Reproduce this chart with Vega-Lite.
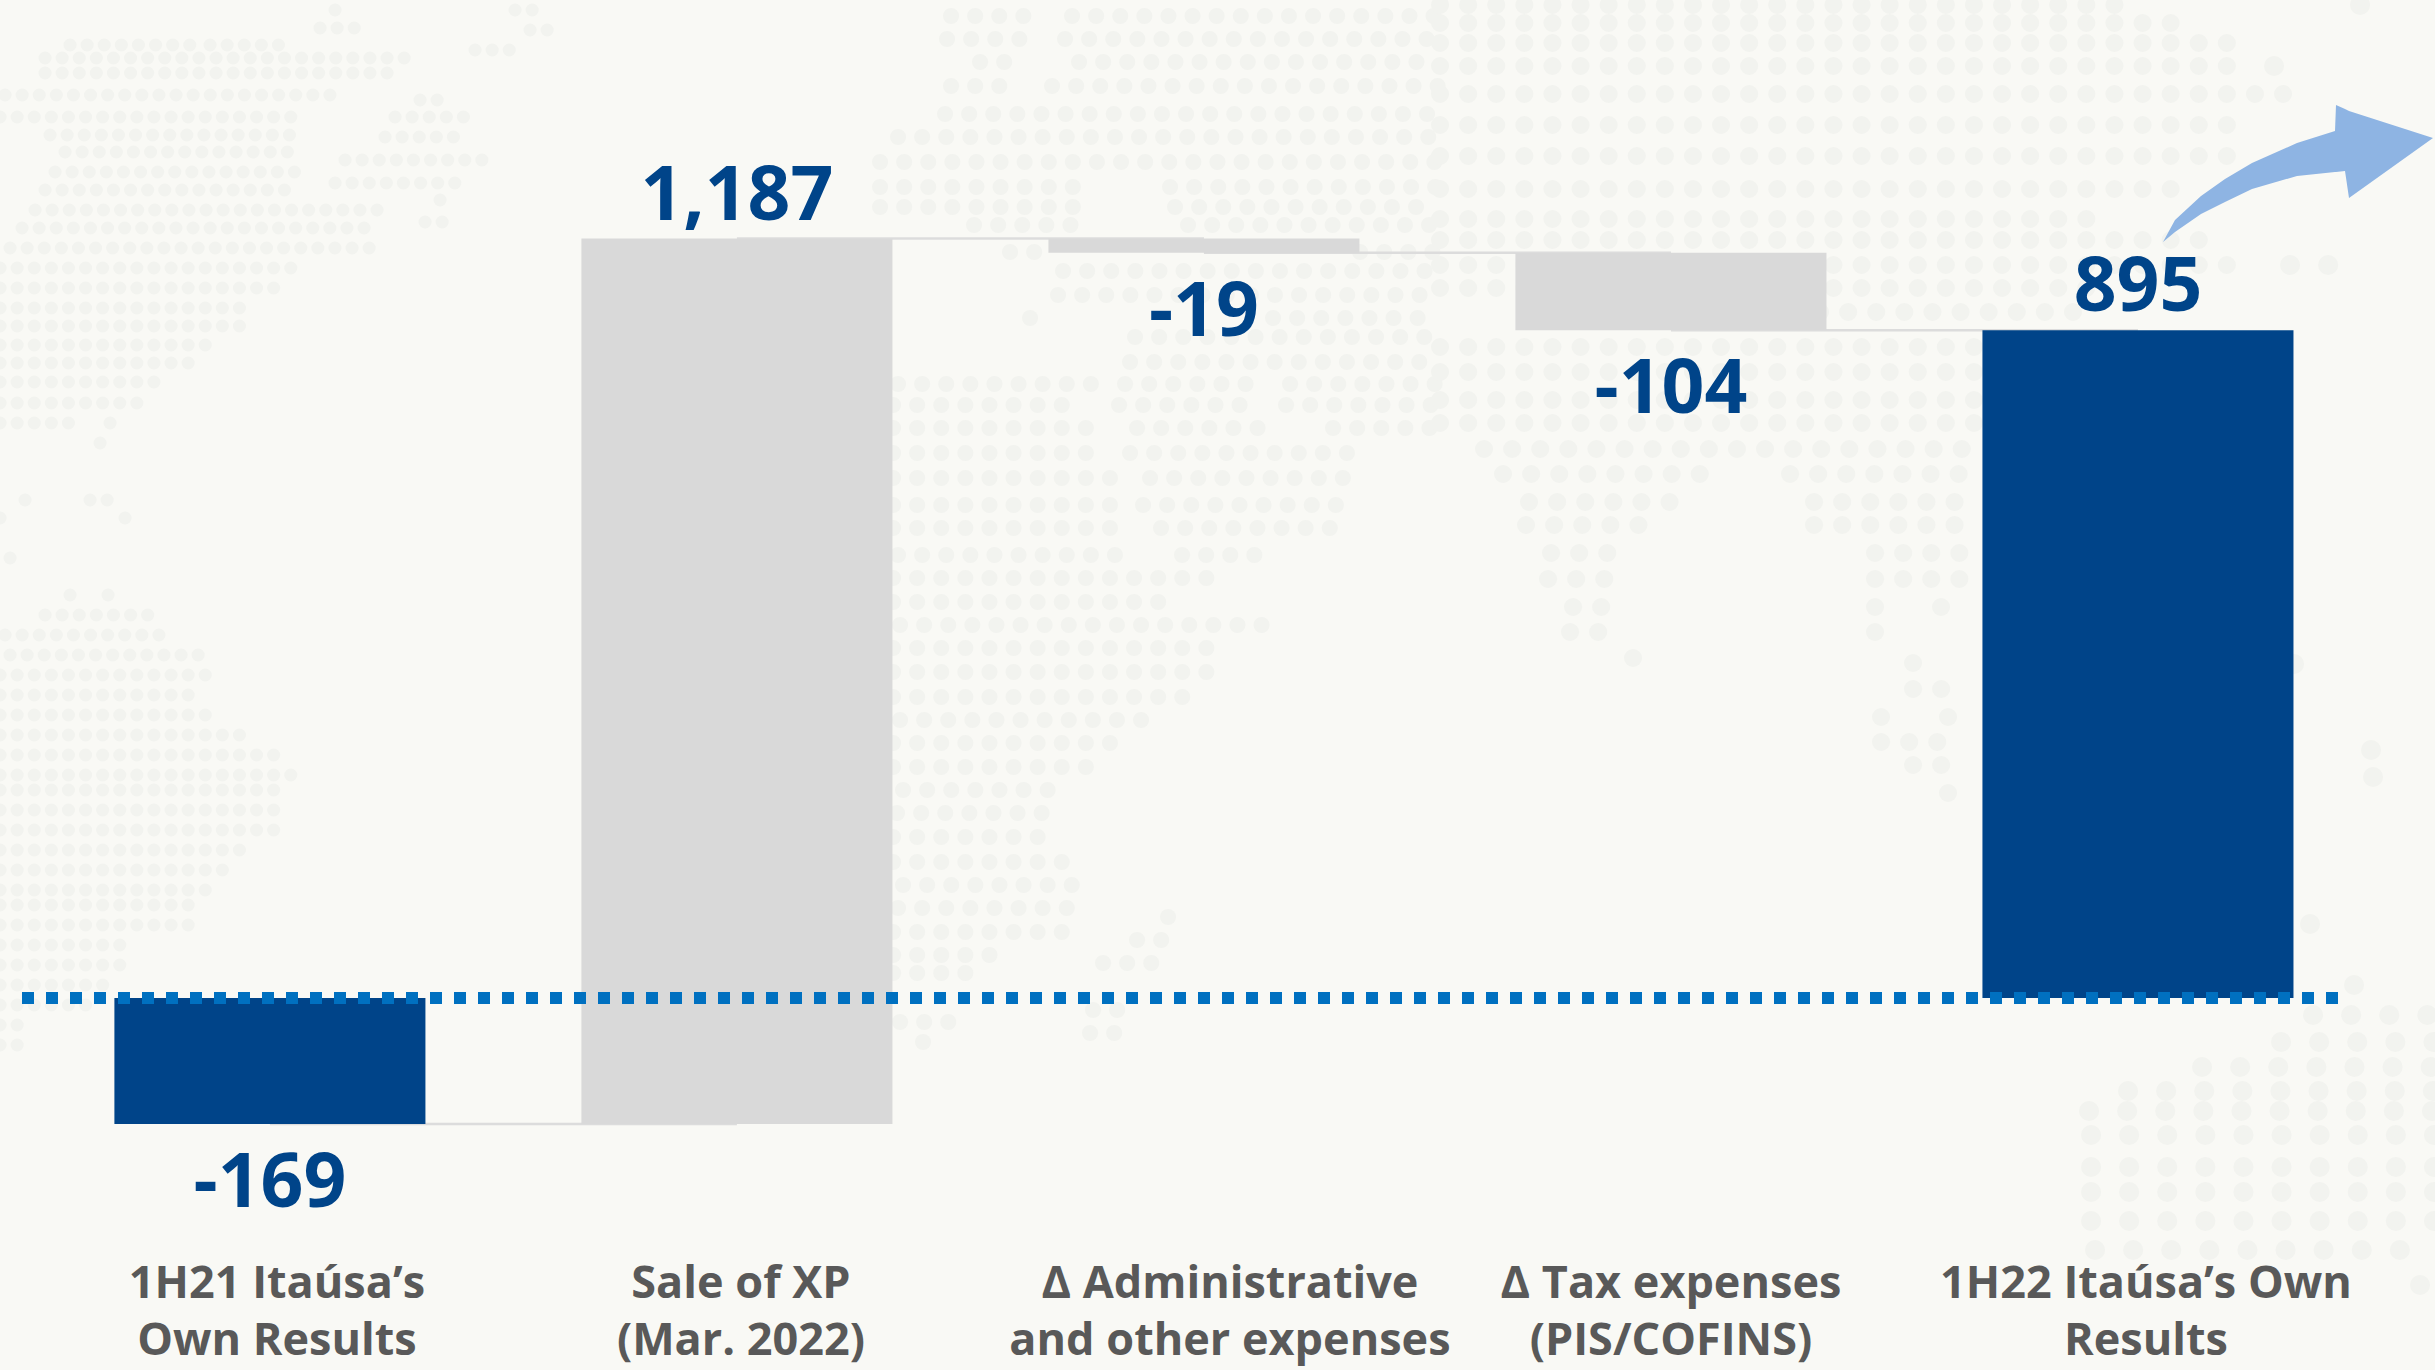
{"$schema":"https://vega.github.io/schema/vega-lite/v6.json","width":2435,"height":1370,"padding":0,"autosize":{"type":"none"},"background":"#f9f9f5","config":{"view":{"stroke":null},"font":"Open Sans"},
"datasets":{
"steps":[
{"step":"1H21 Itaúsa’s Own Results","caption":"1H21 Itaúsa’s\nOwn Results","start":0,"end":-169,"label":"-169","kind":"total"},
{"step":"Sale of XP","caption":"Sale of XP\n(Mar. 2022)","start":-169,"end":1018,"label":"1,187","kind":"change"},
{"step":"Administrative","caption":"Δ Administrative\nand other expenses","start":1018,"end":999,"label":"-19","kind":"change"},
{"step":"Tax","caption":"Δ Tax expenses\n(PIS/COFINS)","start":999,"end":895,"label":"-104","kind":"change"},
{"step":"1H22 Itaúsa’s Own Results","caption":"1H22 Itaúsa’s Own\nResults","start":0,"end":895,"label":"895","kind":"total"}],
"links":[
{"from":"1H21 Itaúsa’s Own Results","to":"Sale of XP","level":-169},
{"from":"Sale of XP","to":"Administrative","level":1018},
{"from":"Administrative","to":"Tax","level":999},
{"from":"Tax","to":"1H22 Itaúsa’s Own Results","level":895}],
"pointer":[
{"x":2163,"a":242,"b":242},{"x":2175,"a":220,"b":232},{"x":2201,"a":196,"b":214},{"x":2225,"a":179,"b":202},{"x":2252,"a":163,"b":189},{"x":2297,"a":143,"b":176},{"x":2335,"a":131,"b":172},{"x":2336,"a":105,"b":172},{"x":2345,"a":109,"b":171},{"x":2349,"a":111,"b":198},{"x":2433,"a":138,"b":138}],
"spans":[
{"y":10,"x0":335,"x1":350,"grid":"W"},{"y":10,"x0":515,"x1":545,"grid":"W"},{"y":28,"x0":320,"x1":360,"grid":"W"},{"y":30,"x0":530,"x1":550,"grid":"W"},{"y":45,"x0":70,"x1":190,"grid":"W"},{"y":45,"x0":210,"x1":280,"grid":"W"},{"y":50,"x0":475,"x1":510,"grid":"W"},{"y":58,"x0":45,"x1":415,"grid":"W"},{"y":73,"x0":45,"x1":390,"grid":"W"},{"y":95,"x0":5,"x1":330,"grid":"W"},{"y":100,"x0":420,"x1":445,"grid":"W"},{"y":117,"x0":0,"x1":300,"grid":"W"},{"y":117,"x0":395,"x1":470,"grid":"W"},{"y":135,"x0":50,"x1":290,"grid":"W"},{"y":137,"x0":385,"x1":460,"grid":"W"},{"y":152,"x0":65,"x1":300,"grid":"W"},{"y":160,"x0":345,"x1":485,"grid":"W"},{"y":172,"x0":55,"x1":305,"grid":"W"},{"y":183,"x0":335,"x1":470,"grid":"W"},{"y":190,"x0":45,"x1":295,"grid":"W"},{"y":200,"x0":440,"x1":445,"grid":"W"},{"y":210,"x0":35,"x1":380,"grid":"W"},{"y":222,"x0":425,"x1":450,"grid":"W"},{"y":228,"x0":22,"x1":370,"grid":"W"},{"y":248,"x0":10,"x1":380,"grid":"W"},{"y":268,"x0":0,"x1":300,"grid":"W"},{"y":288,"x0":0,"x1":280,"grid":"W"},{"y":308,"x0":0,"x1":250,"grid":"W"},{"y":326,"x0":0,"x1":250,"grid":"W"},{"y":345,"x0":0,"x1":210,"grid":"W"},{"y":363,"x0":0,"x1":195,"grid":"W"},{"y":382,"x0":0,"x1":170,"grid":"W"},{"y":403,"x0":0,"x1":145,"grid":"W"},{"y":423,"x0":0,"x1":70,"grid":"W"},{"y":423,"x0":110,"x1":120,"grid":"W"},{"y":443,"x0":100,"x1":105,"grid":"W"},
{"y":500,"x0":25,"x1":30,"grid":"W"},{"y":500,"x0":90,"x1":110,"grid":"W"},{"y":518,"x0":0,"x1":15,"grid":"W"},{"y":518,"x0":125,"x1":130,"grid":"W"},{"y":558,"x0":10,"x1":15,"grid":"W"},{"y":595,"x0":70,"x1":75,"grid":"W"},{"y":595,"x0":108,"x1":112,"grid":"W"},{"y":615,"x0":45,"x1":150,"grid":"W"},{"y":635,"x0":5,"x1":160,"grid":"W"},{"y":655,"x0":10,"x1":205,"grid":"W"},{"y":675,"x0":0,"x1":215,"grid":"W"},{"y":695,"x0":0,"x1":205,"grid":"W"},{"y":715,"x0":0,"x1":215,"grid":"W"},{"y":735,"x0":0,"x1":240,"grid":"W"},{"y":755,"x0":0,"x1":285,"grid":"W"},{"y":775,"x0":0,"x1":300,"grid":"W"},{"y":790,"x0":0,"x1":290,"grid":"W"},{"y":810,"x0":0,"x1":280,"grid":"W"},{"y":830,"x0":0,"x1":280,"grid":"W"},{"y":850,"x0":0,"x1":255,"grid":"W"},{"y":870,"x0":0,"x1":230,"grid":"W"},{"y":890,"x0":0,"x1":220,"grid":"W"},{"y":905,"x0":0,"x1":205,"grid":"W"},{"y":925,"x0":0,"x1":190,"grid":"W"},{"y":945,"x0":0,"x1":130,"grid":"W"},{"y":965,"x0":0,"x1":120,"grid":"W"},{"y":985,"x0":0,"x1":110,"grid":"W"},{"y":1005,"x0":0,"x1":100,"grid":"W"},{"y":1025,"x0":0,"x1":30,"grid":"W"},{"y":1045,"x0":0,"x1":20,"grid":"W"},
{"y":16,"x0":951,"x1":1045,"grid":"C"},{"y":16,"x0":1072,"x1":1440,"grid":"C"},{"y":39,"x0":947,"x1":1038,"grid":"C"},{"y":39,"x0":1065,"x1":1440,"grid":"C"},{"y":62,"x0":980,"x1":1012,"grid":"C"},{"y":62,"x0":1079,"x1":1440,"grid":"C"},{"y":86,"x0":951,"x1":1005,"grid":"C"},{"y":86,"x0":1052,"x1":1440,"grid":"C"},{"y":114,"x0":945,"x1":1440,"grid":"C"},{"y":137,"x0":898,"x1":1440,"grid":"C"},{"y":162,"x0":880,"x1":1440,"grid":"C"},{"y":187,"x0":880,"x1":1094,"grid":"C"},{"y":187,"x0":1170,"x1":1440,"grid":"C"},{"y":207,"x0":880,"x1":1094,"grid":"C"},{"y":207,"x0":1175,"x1":1440,"grid":"C"},{"y":225,"x0":974,"x1":1090,"grid":"C"},{"y":225,"x0":1188,"x1":1440,"grid":"C"},{"y":252,"x0":1010,"x1":1045,"grid":"C"},{"y":252,"x0":1360,"x1":1440,"grid":"C"},{"y":271,"x0":1063,"x1":1440,"grid":"C"},{"y":295,"x0":1058,"x1":1440,"grid":"C"},{"y":318,"x0":1030,"x1":1035,"grid":"C"},{"y":318,"x0":1273,"x1":1440,"grid":"C"},{"y":337,"x0":1135,"x1":1440,"grid":"C"},{"y":362,"x0":1130,"x1":1440,"grid":"C"},{"y":384,"x0":898,"x1":1112,"grid":"C"},{"y":384,"x0":1125,"x1":1255,"grid":"C"},{"y":384,"x0":1290,"x1":1440,"grid":"C"},{"y":405,"x0":893,"x1":1085,"grid":"C"},{"y":405,"x0":1119,"x1":1250,"grid":"C"},{"y":405,"x0":1286,"x1":1440,"grid":"C"},{"y":428,"x0":893,"x1":1103,"grid":"C"},{"y":428,"x0":1137,"x1":1268,"grid":"C"},{"y":428,"x0":1333,"x1":1440,"grid":"C"},{"y":453,"x0":893,"x1":1099,"grid":"C"},{"y":453,"x0":1130,"x1":1367,"grid":"C"},{"y":478,"x0":893,"x1":1116,"grid":"C"},{"y":478,"x0":1150,"x1":1362,"grid":"C"},{"y":505,"x0":893,"x1":1112,"grid":"C"},{"y":505,"x0":1143,"x1":1358,"grid":"C"},{"y":528,"x0":893,"x1":1130,"grid":"C"},{"y":528,"x0":1161,"x1":1331,"grid":"C"},{"y":555,"x0":898,"x1":1125,"grid":"C"},{"y":555,"x0":1182,"x1":1273,"grid":"C"},{"y":578,"x0":893,"x1":1217,"grid":"C"},{"y":602,"x0":893,"x1":1163,"grid":"C"},{"y":625,"x0":900,"x1":1262,"grid":"C"},{"y":648,"x0":893,"x1":1230,"grid":"C"},{"y":672,"x0":893,"x1":1225,"grid":"C"},{"y":697,"x0":893,"x1":1193,"grid":"C"},{"y":720,"x0":900,"x1":1163,"grid":"C"},{"y":743,"x0":893,"x1":1132,"grid":"C"},{"y":767,"x0":893,"x1":1100,"grid":"C"},{"y":790,"x0":903,"x1":1070,"grid":"C"},{"y":813,"x0":897,"x1":1065,"grid":"C"},{"y":837,"x0":893,"x1":1060,"grid":"C"},{"y":862,"x0":893,"x1":1080,"grid":"C"},{"y":885,"x0":903,"x1":1073,"grid":"C"},{"y":908,"x0":898,"x1":1068,"grid":"C"},{"y":917,"x0":1168,"x1":1172,"grid":"C"},{"y":932,"x0":893,"x1":1063,"grid":"C"},{"y":940,"x0":1137,"x1":1163,"grid":"C"},{"y":955,"x0":893,"x1":1005,"grid":"C"},{"y":963,"x0":1103,"x1":1160,"grid":"C"},{"y":973,"x0":893,"x1":975,"grid":"C"},{"y":1010,"x0":1093,"x1":1122,"grid":"C"},{"y":1022,"x0":900,"x1":955,"grid":"C"},{"y":1033,"x0":1090,"x1":1117,"grid":"C"},{"y":1042,"x0":923,"x1":927,"grid":"C"},
{"y":5,"x0":1440,"x1":2138,"grid":"E"},{"y":23,"x0":1440,"x1":2182,"grid":"E"},{"y":43,"x0":1440,"x1":2240,"grid":"E"},{"y":66,"x0":1440,"x1":2227,"grid":"E"},{"y":94,"x0":1440,"x1":2284,"grid":"E"},{"y":125,"x0":1440,"x1":2227,"grid":"E"},{"y":156,"x0":1440,"x1":2227,"grid":"E"},{"y":189,"x0":1440,"x1":2189,"grid":"E"},{"y":219,"x0":1440,"x1":2100,"grid":"E"},{"y":240,"x0":1440,"x1":2201,"grid":"E"},{"y":265,"x0":1440,"x1":2227,"grid":"E"},{"y":288,"x0":1440,"x1":2100,"grid":"E"},{"y":312,"x0":1820,"x1":2100,"grid":"E"},{"y":347,"x0":1440,"x1":1980,"grid":"E"},{"y":372,"x0":1440,"x1":1980,"grid":"E"},{"y":400,"x0":1440,"x1":1980,"grid":"E"},{"y":423,"x0":1440,"x1":1980,"grid":"E"},{"y":449,"x0":1484,"x1":1980,"grid":"E"},{"y":474,"x0":1503,"x1":1720,"grid":"E"},{"y":474,"x0":1790,"x1":1980,"grid":"E"},{"y":502,"x0":1529,"x1":1687,"grid":"E"},{"y":502,"x0":1814,"x1":1967,"grid":"E"},{"y":525,"x0":1526,"x1":1656,"grid":"E"},{"y":525,"x0":1814,"x1":1980,"grid":"E"},{"y":553,"x0":1551,"x1":1624,"grid":"E"},{"y":553,"x0":1875,"x1":1980,"grid":"E"},{"y":579,"x0":1548,"x1":1624,"grid":"E"},{"y":579,"x0":1875,"x1":1967,"grid":"E"},{"y":607,"x0":1573,"x1":1621,"grid":"E"},{"y":607,"x0":1875,"x1":1893,"grid":"E"},{"y":607,"x0":1941,"x1":1967,"grid":"E"},{"y":632,"x0":1570,"x1":1621,"grid":"E"},{"y":632,"x0":1875,"x1":1893,"grid":"E"},{"y":658,"x0":1633,"x1":1637,"grid":"E"},{"y":663,"x0":1913,"x1":1917,"grid":"E"},{"y":689,"x0":1913,"x1":1960,"grid":"E"},{"y":717,"x0":1881,"x1":1885,"grid":"E"},{"y":717,"x0":1948,"x1":1952,"grid":"E"},{"y":742,"x0":1881,"x1":1960,"grid":"E"},{"y":765,"x0":1913,"x1":1957,"grid":"E"},{"y":793,"x0":1948,"x1":1952,"grid":"E"},
{"y":5,"x0":2360,"x1":2392,"grid":"F"},{"y":66,"x0":2274,"x1":2278,"grid":"F"},{"y":265,"x0":2290,"x1":2360,"grid":"F"},{"y":664,"x0":2294,"x1":2321,"grid":"F"},{"y":750,"x0":2371,"x1":2375,"grid":"F"},{"y":777,"x0":2373,"x1":2377,"grid":"F"},{"y":924,"x0":2310,"x1":2314,"grid":"F"},{"y":985,"x0":2354,"x1":2358,"grid":"F"},{"y":1015,"x0":2313,"x1":2435,"grid":"F"},{"y":1042,"x0":2281,"x1":2435,"grid":"F"},{"y":1067,"x0":2202,"x1":2435,"grid":"F"},{"y":1091,"x0":2128,"x1":2435,"grid":"F"},{"y":1111,"x0":2089,"x1":2435,"grid":"F"},{"y":1135,"x0":2091,"x1":2435,"grid":"F"},{"y":1167,"x0":2091,"x1":2435,"grid":"F"},{"y":1192,"x0":2091,"x1":2435,"grid":"F"},{"y":1221,"x0":2091,"x1":2435,"grid":"F"},{"y":1250,"x0":2095,"x1":2435,"grid":"F"},{"y":1285,"x0":2420,"x1":2435,"grid":"F"}]
},
"resolve":{"scale":{"x":"independent","y":"independent","color":"independent","strokeDash":"independent","strokeWidth":"independent"}},
"layer":[
{"data":{"name":"spans"},"mark":{"type":"rule","strokeCap":"round","color":"#f2f3ef"},"encoding":{
"x":{"field":"x0","type":"quantitative","axis":null,"scale":{"domain":[0,2435],"nice":false,"zero":false}},
"x2":{"field":"x1"},
"y":{"field":"y","type":"quantitative","axis":null,"scale":{"domain":[1370,0],"nice":false,"zero":false}},
"strokeDash":{"field":"grid","type":"nominal","legend":null,"scale":{"domain":["W","C","E","F"],"range":[[0.1,17],[0.1,24],[0.1,28],[0.1,38]]}},
"strokeWidth":{"field":"grid","type":"nominal","legend":null,"scale":{"type":"ordinal","domain":["W","C","E","F"],"range":[13,16,18,20]}}}},
{"data":{"name":"pointer"},"mark":{"type":"area","color":"#8eb4e3","orient":"vertical"},"encoding":{
"x":{"field":"x","type":"quantitative","axis":null,"scale":{"domain":[0,2435],"nice":false,"zero":false}},
"y":{"field":"a","type":"quantitative","axis":null,"stack":null,"scale":{"domain":[1370,0],"nice":false,"zero":false}},
"y2":{"field":"b"}}},
{"data":{"name":"links"},"mark":{"type":"rule","color":"#dcdcdc","strokeWidth":2.5},"encoding":{
"x":{"field":"from","type":"nominal","axis":null,"sort":null,"scale":{"type":"band","domain":["1H21 Itaúsa’s Own Results","Sale of XP","Administrative","Tax","1H22 Itaúsa’s Own Results"],"paddingInner":0.334,"paddingOuter":0.274,"align":0.447}},
"x2":{"field":"to"},
"y":{"field":"level","type":"quantitative","axis":null,"scale":{"domain":[-498.7,1337.8],"nice":false,"zero":false}}}},
{"data":{"name":"steps"},"mark":{"type":"bar"},"encoding":{
"x":{"field":"step","type":"nominal","axis":null,"sort":null,"scale":{"type":"band","domain":["1H21 Itaúsa’s Own Results","Sale of XP","Administrative","Tax","1H22 Itaúsa’s Own Results"],"paddingInner":0.334,"paddingOuter":0.274,"align":0.447}},
"y":{"field":"start","type":"quantitative","axis":null,"scale":{"domain":[-498.7,1337.8],"nice":false,"zero":false}},
"y2":{"field":"end"},
"color":{"field":"kind","type":"nominal","legend":null,"scale":{"domain":["total","change"],"range":["#004489","#d9d9d9"]}}}},
{"data":{"values":[{"level":0}]},"mark":{"type":"rule","color":"#0070c0","strokeWidth":12,"strokeDash":[12,12]},"encoding":{
"x":{"datum":22,"axis":null,"scale":{"domain":[0,2435],"nice":false,"zero":false}},"x2":{"datum":2340},
"y":{"field":"level","type":"quantitative","axis":null,"scale":{"domain":[-498.7,1337.8],"nice":false,"zero":false}}}},
{"data":{"name":"steps"},"transform":[{"filter":"datum.label[0] === '-'"}],"mark":{"type":"text","font":"Open Sans","fontWeight":700,"fontSize":75,"color":"#004489","baseline":"alphabetic","dy":83},"encoding":{
"x":{"field":"step","type":"nominal","axis":null,"sort":null,"scale":{"type":"band","domain":["1H21 Itaúsa’s Own Results","Sale of XP","Administrative","Tax","1H22 Itaúsa’s Own Results"],"paddingInner":0.334,"paddingOuter":0.274,"align":0.447}},
"y":{"field":"end","type":"quantitative","axis":null,"scale":{"domain":[-498.7,1337.8],"nice":false,"zero":false}},"text":{"field":"label"}}},
{"data":{"name":"steps"},"transform":[{"filter":"datum.label[0] !== '-'"}],"mark":{"type":"text","font":"Open Sans","fontWeight":700,"fontSize":75,"color":"#004489","baseline":"alphabetic","dy":-19},"encoding":{
"x":{"field":"step","type":"nominal","axis":null,"sort":null,"scale":{"type":"band","domain":["1H21 Itaúsa’s Own Results","Sale of XP","Administrative","Tax","1H22 Itaúsa’s Own Results"],"paddingInner":0.334,"paddingOuter":0.274,"align":0.447}},
"y":{"field":"end","type":"quantitative","axis":null,"scale":{"domain":[-498.7,1337.8],"nice":false,"zero":false}},"text":{"field":"label"}}},
{"data":{"name":"steps"},"transform":[{"filter":"datum.step === '1H21 Itaúsa’s Own Results'"}],"mark":{"type":"text","font":"Open Sans","fontWeight":700,"fontSize":45,"color":"#595959","baseline":"alphabetic","lineBreak":"\n","lineHeight":57,"dx":7},"encoding":{
"x":{"field":"step","type":"nominal","axis":null,"sort":null,"scale":{"type":"band","domain":["1H21 Itaúsa’s Own Results","Sale of XP","Administrative","Tax","1H22 Itaúsa’s Own Results"],"paddingInner":0.334,"paddingOuter":0.274,"align":0.447}},
"y":{"datum":-402,"axis":null,"scale":{"domain":[-498.7,1337.8],"nice":false,"zero":false}},"text":{"field":"caption"}}},
{"data":{"name":"steps"},"transform":[{"filter":"datum.step === 'Sale of XP'"}],"mark":{"type":"text","font":"Open Sans","fontWeight":700,"fontSize":45,"color":"#595959","baseline":"alphabetic","lineBreak":"\n","lineHeight":57,"dx":4},"encoding":{
"x":{"field":"step","type":"nominal","axis":null,"sort":null,"scale":{"type":"band","domain":["1H21 Itaúsa’s Own Results","Sale of XP","Administrative","Tax","1H22 Itaúsa’s Own Results"],"paddingInner":0.334,"paddingOuter":0.274,"align":0.447}},
"y":{"datum":-402,"axis":null,"scale":{"domain":[-498.7,1337.8],"nice":false,"zero":false}},"text":{"field":"caption"}}},
{"data":{"name":"steps"},"transform":[{"filter":"datum.step === 'Administrative'"}],"mark":{"type":"text","font":"Open Sans","fontWeight":700,"fontSize":45,"color":"#595959","baseline":"alphabetic","lineBreak":"\n","lineHeight":57,"dx":26},"encoding":{
"x":{"field":"step","type":"nominal","axis":null,"sort":null,"scale":{"type":"band","domain":["1H21 Itaúsa’s Own Results","Sale of XP","Administrative","Tax","1H22 Itaúsa’s Own Results"],"paddingInner":0.334,"paddingOuter":0.274,"align":0.447}},
"y":{"datum":-402,"axis":null,"scale":{"domain":[-498.7,1337.8],"nice":false,"zero":false}},"text":{"field":"caption"}}},
{"data":{"name":"steps"},"transform":[{"filter":"datum.step === 'Tax'"}],"mark":{"type":"text","font":"Open Sans","fontWeight":700,"fontSize":45,"color":"#595959","baseline":"alphabetic","lineBreak":"\n","lineHeight":57,"dx":0},"encoding":{
"x":{"field":"step","type":"nominal","axis":null,"sort":null,"scale":{"type":"band","domain":["1H21 Itaúsa’s Own Results","Sale of XP","Administrative","Tax","1H22 Itaúsa’s Own Results"],"paddingInner":0.334,"paddingOuter":0.274,"align":0.447}},
"y":{"datum":-402,"axis":null,"scale":{"domain":[-498.7,1337.8],"nice":false,"zero":false}},"text":{"field":"caption"}}},
{"data":{"name":"steps"},"transform":[{"filter":"datum.step === '1H22 Itaúsa’s Own Results'"}],"mark":{"type":"text","font":"Open Sans","fontWeight":700,"fontSize":45,"color":"#595959","baseline":"alphabetic","lineBreak":"\n","lineHeight":57,"dx":8},"encoding":{
"x":{"field":"step","type":"nominal","axis":null,"sort":null,"scale":{"type":"band","domain":["1H21 Itaúsa’s Own Results","Sale of XP","Administrative","Tax","1H22 Itaúsa’s Own Results"],"paddingInner":0.334,"paddingOuter":0.274,"align":0.447}},
"y":{"datum":-402,"axis":null,"scale":{"domain":[-498.7,1337.8],"nice":false,"zero":false}},"text":{"field":"caption"}}}
]}
